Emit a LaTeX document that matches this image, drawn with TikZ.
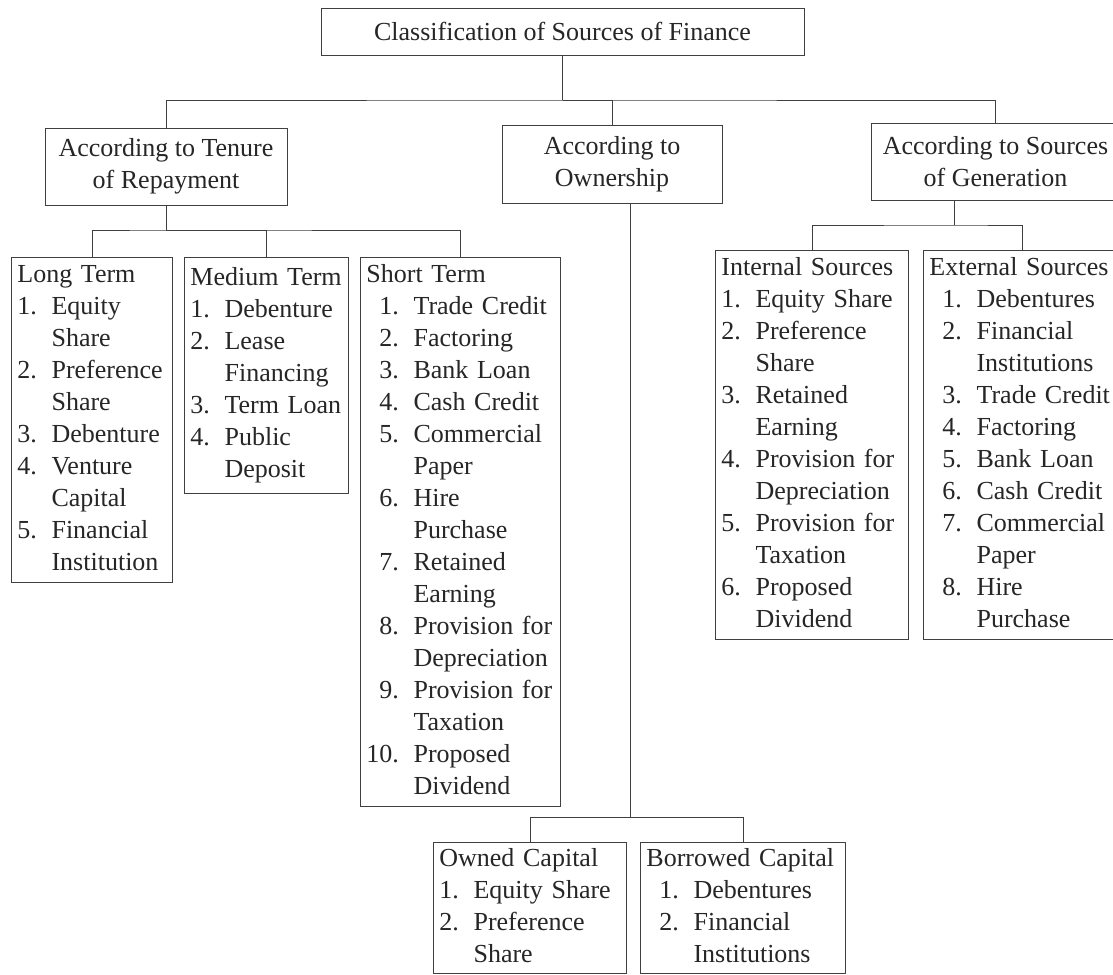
\documentclass[tikz,border=0pt]{standalone}
\usepackage{fontspec}
\setmainfont{Liberation Serif}

\tikzset{
  every node/.style={font=\fontsize{19.5}{24}\selectfont, text=black!85},
  head/.style={draw=black!75, line width=0.6pt, align=center, inner sep=0pt},
  lst/.style={draw=black!75, line width=0.6pt, anchor=north west,
    inner xsep=4.5pt, inner ysep=2pt, align=left, text width=#1},
  link/.style={draw=black!75, line width=0.6pt}
}
\newcommand{\hd}[1]{\multicolumn{2}{@{}l@{}}{#1}}

\begin{document}
\begin{tikzpicture}[x=0.75pt,y=-0.75pt]
\useasboundingbox[fill=white] (0,0) rectangle (1113,974);

% top levels
\node[head, minimum width=362.25pt, minimum height=35.25pt] (root) at (562.5,31.5) {Classification of Sources of Finance};
\node[head, minimum width=181.5pt, minimum height=57.75pt] (tenure) at (166,166.5) {According to Tenure\\of Repayment};
\node[head, minimum width=165pt, minimum height=58.5pt] (own) at (612,164) {According to\\Ownership};
\node[head, minimum width=186.75pt, minimum height=57.75pt] (gen) at (995.5,161.5) {According to Sources\\of Generation};

% tenure of repayment
\node[lst=111.75pt] (long) at (11,257) {\begin{tabular}{@{}r@{\hspace{11pt}}l@{}}
\hd{Long Term}\\
1.&Equity\\ &Share\\ 2.&Preference\\ &Share\\ 3.&Debenture\\
4.&Venture\\ &Capital\\ 5.&Financial\\ &Institution
\end{tabular}};
\node[lst=114pt, minimum height=177pt] (medium) at (184,257) {\begin{tabular}{@{}r@{\hspace{11pt}}l@{}}
\hd{Medium Term}\\
1.&Debenture\\ 2.&Lease\\ &Financing\\ 3.&Term Loan\\ 4.&Public\\ &Deposit
\end{tabular}};
\node[lst=141pt] (short) at (360,257) {\begin{tabular}{@{}r@{\hspace{11pt}}l@{}}
\hd{Short Term}\\
1.&Trade Credit\\ 2.&Factoring\\ 3.&Bank Loan\\ 4.&Cash Credit\\
5.&Commercial\\ &Paper\\ 6.&Hire\\ &Purchase\\ 7.&Retained\\ &Earning\\
8.&Provision for\\ &Depreciation\\ 9.&Provision for\\ &Taxation\\
10.&Proposed\\ &Dividend
\end{tabular}};

% sources of generation
\node[lst=135.75pt] (int) at (715,250) {\begin{tabular}{@{}r@{\hspace{11pt}}l@{}}
\hd{Internal Sources}\\
1.&Equity Share\\ 2.&Preference\\ &Share\\ 3.&Retained\\ &Earning\\
4.&Provision for\\ &Depreciation\\ 5.&Provision for\\ &Taxation\\
6.&Proposed\\ &Dividend
\end{tabular}};
\node[lst=138.75pt] (ext) at (923,250) {\begin{tabular}{@{}r@{\hspace{11pt}}l@{}}
\hd{External Sources}\\
\hphantom{1}1.&Debentures\\ 2.&Financial\\ &Institutions\\ 3.&Trade Credit\\
4.&Factoring\\ 5.&Bank Loan\\ 6.&Cash Credit\\ 7.&Commercial\\ &Paper\\
8.&Hire\\ &Purchase
\end{tabular}};

% ownership
\node[lst=135.75pt, inner ysep=1pt] (owned) at (433,842) {\begin{tabular}{@{}r@{\hspace{11pt}}l@{}}
\hd{Owned Capital}\\
1.&Equity Share\\ 2.&Preference\\ &Share
\end{tabular}};
\node[lst=144.75pt, inner ysep=1pt] (borrowed) at (640,842) {\begin{tabular}{@{}r@{\hspace{11pt}}l@{}}
\hd{Borrowed Capital}\\
\hphantom{1}1.&Debentures\\ 2.&Financial\\ &Institutions
\end{tabular}};

% connectors
\coordinate (rootbus) at (562.5,100);
\coordinate (tenbus) at (166,230);
\coordinate (genbus) at (954,225);
\coordinate (ownbus) at (630,817);
\path[link] (root.south) -- (rootbus);
\path[link] (tenure.north) |- (rootbus) -| (gen.north);
\path[link] (rootbus) -| (own.north);
\path[link] (tenure.south) -- (tenbus);
\path[link] (long.north) |- (tenbus) -| (short.north);
\path[link] (tenbus) -| (medium.north);
\path[link] (gen.south -| genbus) -- (genbus);
\path[link] (int.north) |- (genbus) -| (ext.north);
\path[link] (own.south -| ownbus) -- (ownbus);
\path[link] (owned.north) |- (ownbus) -| (borrowed.north);
\end{tikzpicture}
\end{document}
